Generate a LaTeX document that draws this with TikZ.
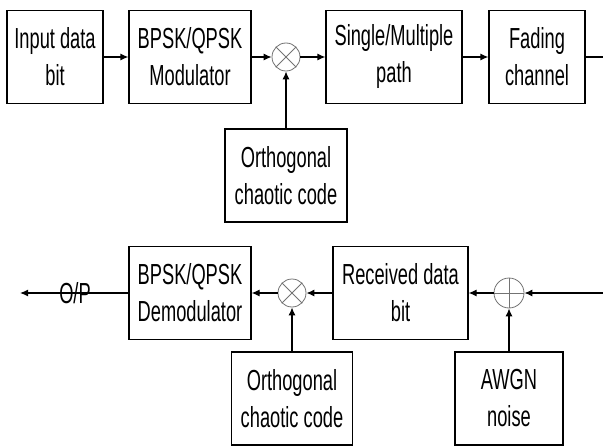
\documentclass[tikz,border=0pt]{standalone}
\usepackage{fontspec}
\setmainfont{Liberation Sans}[FakeStretch=0.63]
\usetikzlibrary{arrows.meta}
\begin{document}
\begin{tikzpicture}[x=1pt,y=-1pt,
  every node/.style={font=\fontsize{29}{37}\selectfont, align=center, inner sep=0pt},
  blk/.style={draw, line width=1.2pt, minimum width=#1, minimum height=93pt},
  blk/.default=122pt,
  mixer/.style={circle, draw=black!55, line width=0.8pt, minimum size=28pt},
  sig/.style={line width=1.2pt, -{Latex[length=8pt,width=7pt]}},
  wire/.style={line width=1.2pt}]
\useasboundingbox (0,0) rectangle (603,447);

% transmitter chain
\node[blk=96pt]  (src)  at (55,57)  {Input data\\bit};
\node[blk]       (mod)  at (190,57) {BPSK/QPSK\\Modulator};
\node[mixer]     (mx1)  at (286,57) {};
\node[blk=136pt] (path) at (394,57) {Single/Multiple\\path};
\node[blk=96pt]  (fade) at (537,57) {Fading\\channel};
\node[blk]       (occ1) at (286,175.5) {Orthogonal\\chaotic code};
\coordinate (txout) at (603,57);

\draw[black!55, line width=0.8pt] (mx1.north west) -- (mx1.south east)
                                  (mx1.north east) -- (mx1.south west);

\draw[sig]  (src) -- (mod);
\draw[sig]  (mod) -- (mx1);
\draw[sig]  (mx1) -- (path);
\draw[sig]  (path) -- (fade);
\draw[wire] (fade) -- (txout);
\draw[sig]  (occ1) -- (mx1);

% receiver chain
\coordinate (rxin) at (603,293);
\coordinate (rxout) at (20,293);
\node[mixer, minimum size=30pt] (add) at (509,293) {};
\node[blk=135pt] (rec)   at (400.5,293) {Received data\\bit};
\node[mixer]     (mx2)   at (292,293) {};
\node[blk]       (demod) at (190,293) {BPSK/QPSK\\Demodulator};
\node[blk=121pt] (occ2)  at (292,398.5) {Orthogonal\\chaotic code};
\node[blk=108pt] (awgn)  at (509,398.5) {AWGN\\noise};

\draw[black!55, line width=0.8pt] (add.north) -- (add.south)
                                  (add.west) -- (add.east);
\draw[black!55, line width=0.8pt] (mx2.north west) -- (mx2.south east)
                                  (mx2.north east) -- (mx2.south west);

\draw[sig] (rxin) -- (add);
\draw[sig] (awgn) -- (add);
\draw[sig] (add) -- (rec);
\draw[sig] (rec) -- (mx2);
\draw[sig] (occ2) -- (mx2);
\draw[sig] (mx2) -- (demod);
\draw[sig] (demod) -- (rxout);
\node (op) at (75,293) {O/P};
\end{tikzpicture}
\end{document}
